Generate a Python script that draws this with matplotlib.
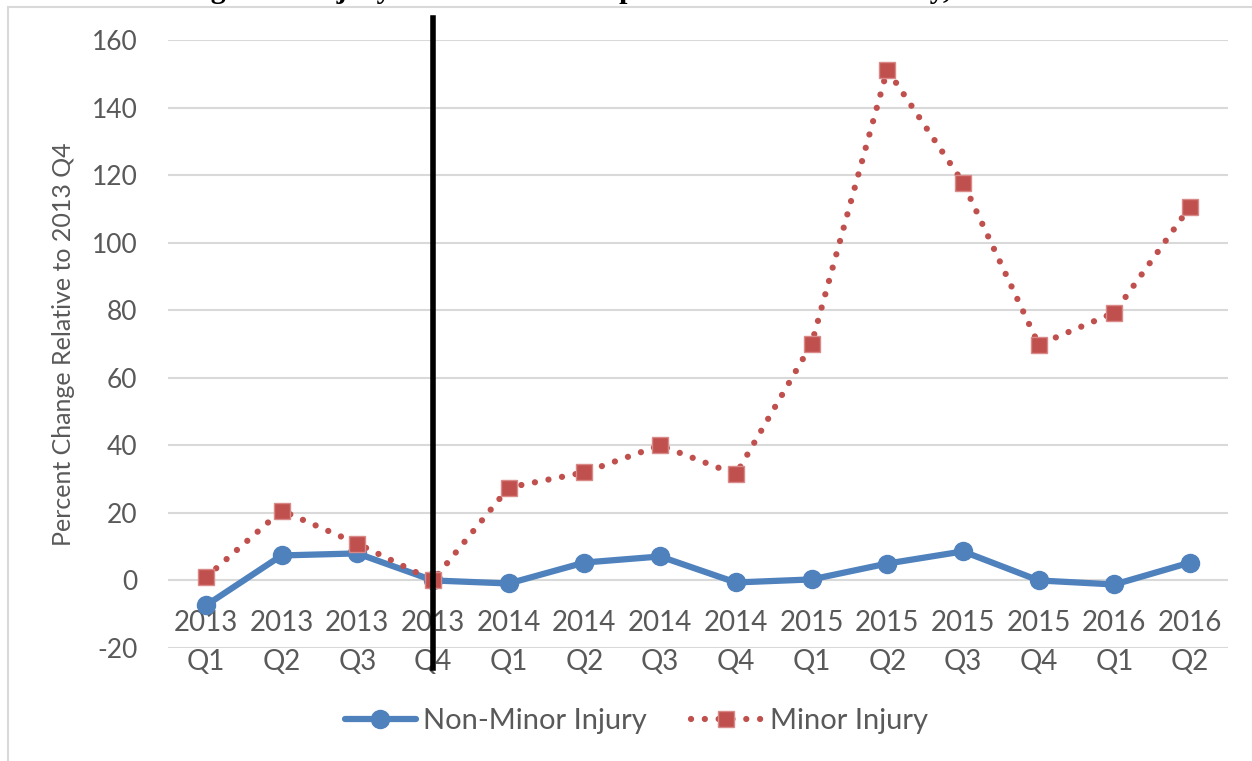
import matplotlib
matplotlib.use("Agg")
import matplotlib.pyplot as plt
from matplotlib.lines import Line2D
from matplotlib.patches import Rectangle

years = ["2013", "2013", "2013", "2013", "2014", "2014", "2014", "2014",
         "2015", "2015", "2015", "2015", "2016", "2016"]
quarters = ["Q1", "Q2", "Q3", "Q4", "Q1", "Q2", "Q3", "Q4",
            "Q1", "Q2", "Q3", "Q4", "Q1", "Q2"]
non_minor = [-7.4, 7.4, 8.0, 0.0, -0.9, 5.3, 7.1, -0.6, 0.3, 5.0, 8.6, 0.0, -1.2, 5.3]
minor = [0.9, 20.7, 10.9, 0.0, 27.5, 32.0, 40.0, 31.4, 70.0, 151.2, 117.8, 69.8, 79.3, 110.7]
yticks = [-20, 0, 20, 40, 60, 80, 100, 120, 140, 160]
ref_index = 3  # 2013 Q4
title = "Figure 4: Injury Related EMS Dispatches in New York City, 2013-2016"

W, H = 1252, 761
plt.rcParams['font.family'] = ['Lato', 'DejaVu Sans']
plt.rcParams['axes.unicode_minus'] = False
fig = plt.figure(figsize=(W / 100, H / 100), dpi=100)
gray = '#595959'
blue = '#4F81BD'
red = '#C0504D'

# chart border
fig.patches.append(Rectangle((8 / W, -0.01), 1.02, 1 - 7 / H + 0.01, transform=fig.transFigure,
                             fill=False, edgecolor='#D9D9D9', linewidth=1.5))
# clipped title
fig.text(636 / W, 1 + 2.5 / H, title, ha='center', va='baseline', fontsize=21.6,
         fontweight='bold', family='Liberation Serif')

left, right = 168, 1228
top, bottom = 40, 648
ax = fig.add_axes([left / W, 1 - bottom / H, (right - left) / W, (bottom - top) / H])
x = list(range(len(years)))
ax.set_xlim(-0.5, len(years) - 0.5)
ax.set_ylim(-20, 160)
ax.spines['bottom'].set_position(('data', 0))
for s in ax.spines.values():
    s.set_visible(False)
ax.set_yticks(yticks)
ax.grid(axis='y', color='#D9D9D9', linewidth=1.5)
ax.set_axisbelow(True)
ax.set_xticks(x)
ax.set_xticklabels([f"{y}\n{q}" for y, q in zip(years, quarters)], linespacing=1.65)
ax.tick_params(axis='y', length=0, labelsize=19, labelcolor=gray, pad=22)
ax.tick_params(axis='x', length=0, labelsize=20, labelcolor=gray, pad=21)
ax.set_ylabel("Percent Change Relative to 2013 Q4", fontsize=18, color=gray, labelpad=12)

ax.plot(x, non_minor, color=blue, linewidth=4.5, marker='o', markersize=13,
        markerfacecolor=blue, markeredgecolor=blue, solid_capstyle='round', zorder=3)
ax.plot(x, minor, color=red, linewidth=4.5, linestyle=(0, (0.01, 2.2)),
        dash_capstyle='round', marker='s', markersize=12, markerfacecolor=red,
        markeredgecolor='#D98A88', markeredgewidth=1, zorder=4)

ax.plot([ref_index, ref_index], [166.5, -26], color='black', linewidth=4,
        clip_on=False, zorder=5)

h1 = Line2D([], [], color=blue, linewidth=4.5, marker='o', markersize=13,
            solid_capstyle='round')
h2 = Line2D([], [], color=red, linewidth=4.5, linestyle=(0, (0.01, 2.2)),
            dash_capstyle='round', marker='s', markersize=12, markeredgecolor='#D98A88')
leg = fig.legend([h1, h2], ["Non-Minor Injury", "Minor Injury"], loc='center',
                 bbox_to_anchor=(636 / W, 1 - 721 / H), ncol=2, frameon=False,
                 fontsize=21, handlelength=2.45, columnspacing=1.5, handletextpad=0.25)
for t in leg.get_texts():
    t.set_color(gray)

fig.savefig("out.png", dpi=100)
